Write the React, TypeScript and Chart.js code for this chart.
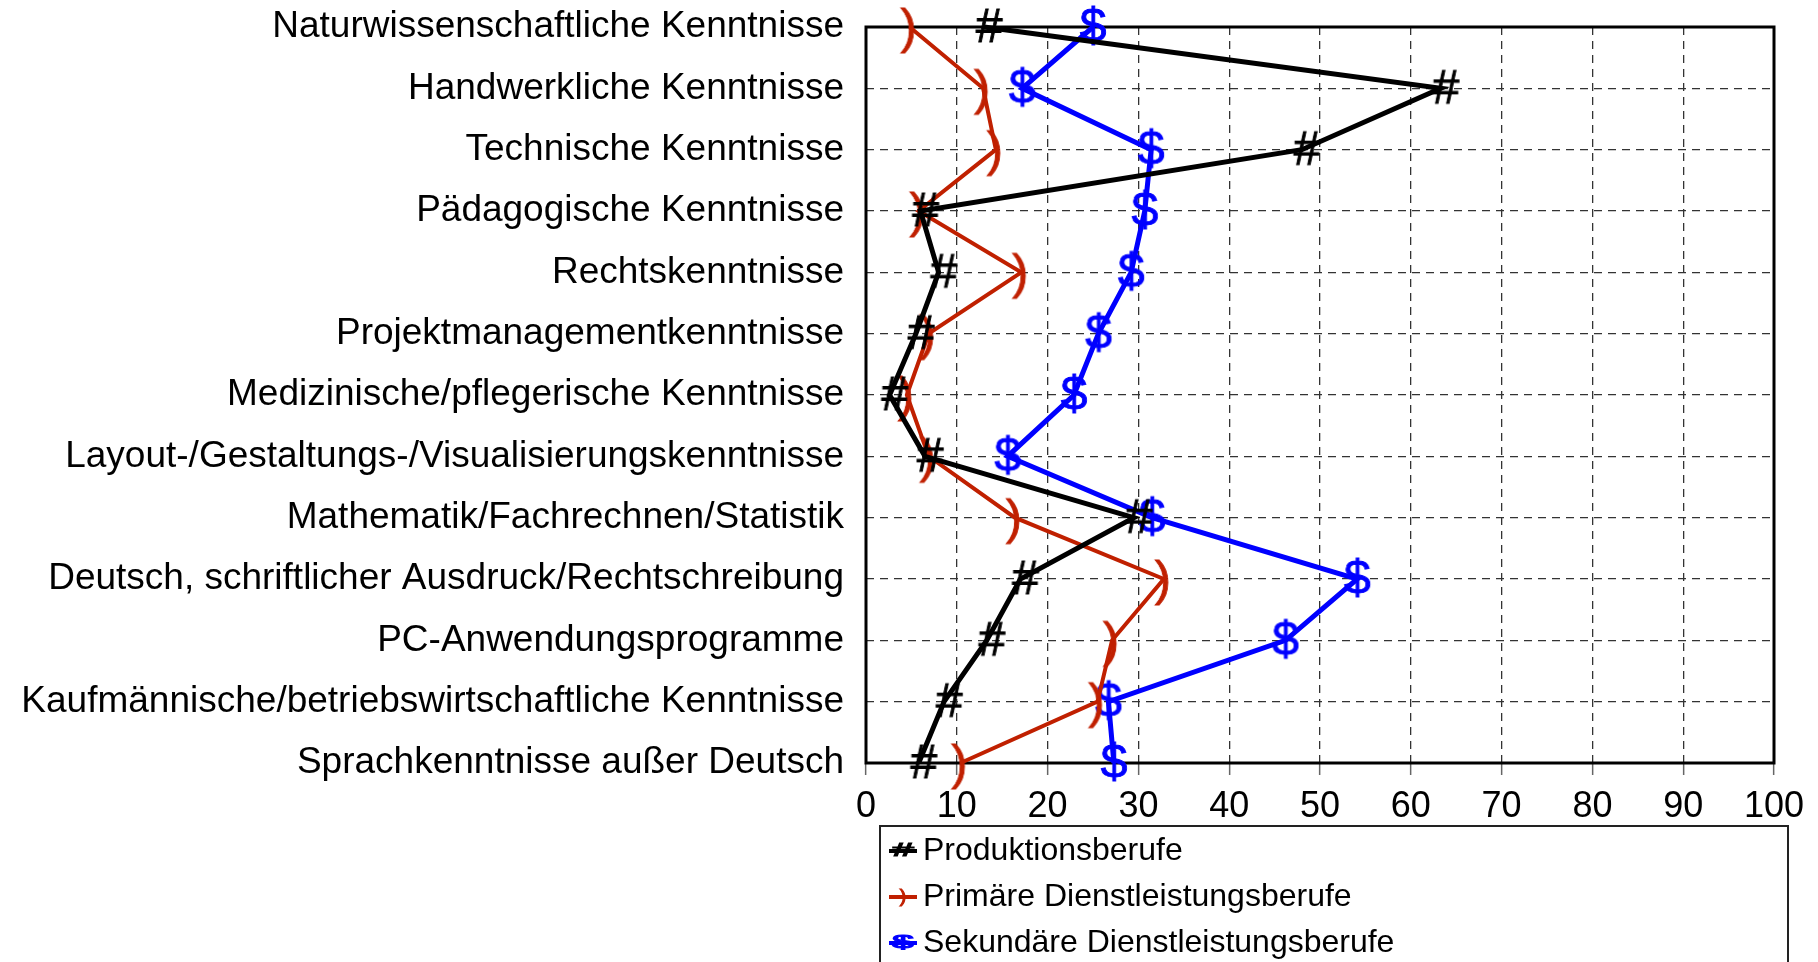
import React, { useEffect, useRef } from 'react';
import { Chart, registerables } from 'chart.js';

Chart.register(...registerables);

const categories = [
  'Naturwissenschaftliche Kenntnisse',
  'Handwerkliche Kenntnisse',
  'Technische Kenntnisse',
  'Pädagogische Kenntnisse',
  'Rechtskenntnisse',
  'Projektmanagementkenntnisse',
  'Medizinische/pflegerische Kenntnisse',
  'Layout-/Gestaltungs-/Visualisierungskenntnisse',
  'Mathematik/Fachrechnen/Statistik',
  'Deutsch, schriftlicher Ausdruck/Rechtschreibung',
  'PC-Anwendungsprogramme',
  'Kaufmännische/betriebswirtschaftliche Kenntnisse',
  'Sprachkenntnisse außer Deutsch',
];

const seriesLabels = ['Produktionsberufe', 'Primäre Dienstleistungsberufe', 'Sekundäre Dienstleistungsberufe'];

const produktion = [13, 63.3, 48, 6.0, 8.0, 5.5, 2.6, 6.5, 29.5, 17.0, 13.3, 8.6, 5.8];
const primaer = [4.8, 12.9, 14.3, 5.8, 17.1, 6.9, 4.5, 6.9, 16.4, 32.8, 27.1, 25.5, 10.4];
const sekundaer = [25.0, 17.2, 31.4, 30.7, 29.2, 25.6, 22.9, 15.6, 31.5, 54.1, 46.2, 26.7, 27.3];

const xMin = 0;
const xMax = 100;
const xStep = 10;

const FONT = '"Liberation Sans", Arial, Helvetica, sans-serif';
const BLACK = '#000000';
const RED = '#c02000';
const BLUE = '#0000ff';

function glyph(ch: string, color: string, dx: number, dy: number): HTMLCanvasElement {
  const c = document.createElement('canvas');
  c.width = 64;
  c.height = 72;
  const g = c.getContext('2d')!;
  g.font = `48px ${FONT}`;
  g.fillStyle = color;
  g.strokeStyle = color;
  g.lineWidth = 0.9;
  g.textAlign = 'center';
  g.textBaseline = 'middle';
  g.fillText(ch, 32 + dx, 36 + dy);
  g.strokeText(ch, 32 + dx, 36 + dy);
  return c;
}

const framePlugin = {
  id: 'frame',
  beforeDatasetsDraw(chart: any) {
    const { ctx, chartArea } = chart;
    ctx.save();
    ctx.strokeStyle = '#000';
    ctx.lineWidth = 3;
    ctx.strokeRect(chartArea.left, chartArea.top, chartArea.right - chartArea.left, chartArea.bottom - chartArea.top);
    ctx.restore();
  },
};

const legendPlugin = {
  id: 'boxLegend',
  afterDraw(chart: any) {
    const { ctx, chartArea } = chart;
    const bx = chartArea.left + 14;
    const by = chartArea.bottom + 63;
    const bw = chartArea.right - chartArea.left;
    ctx.save();
    ctx.strokeStyle = '#222';
    ctx.lineWidth = 2;
    ctx.strokeRect(bx, by, bw, 200);
    const glyphs = ['#', ')', '$'];
    const sx = [1.2, 0.6, 1.2];
    chart.data.datasets.forEach((ds: any, i: number) => {
      const y = by + 25 + i * 46;
      const mx = bx + 23;
      ctx.strokeStyle = ds.borderColor;
      ctx.lineWidth = 4;
      ctx.beginPath();
      ctx.moveTo(bx + 9, y);
      ctx.lineTo(bx + 37, y);
      ctx.stroke();
      ctx.save();
      ctx.translate(mx, y);
      ctx.scale(sx[i], 0.55);
      ctx.fillStyle = ds.borderColor;
      ctx.strokeStyle = ds.borderColor;
      ctx.lineWidth = 2;
      ctx.font = `32px ${FONT}`;
      ctx.textAlign = 'center';
      ctx.textBaseline = 'middle';
      ctx.fillText(glyphs[i], 0, 0);
      ctx.strokeText(glyphs[i], 0, 0);
      ctx.restore();
      ctx.fillStyle = '#000';
      ctx.font = `32px ${FONT}`;
      ctx.textAlign = 'left';
      ctx.textBaseline = 'middle';
      ctx.fillText(ds.label, bx + 43, y);
    });
    ctx.restore();
  },
};

export default function App() {
  const ref = useRef<HTMLCanvasElement | null>(null);

  useEffect(() => {
    document.body.style.margin = '0';
    const canvas = ref.current!;
    const chart = new Chart(canvas, {
      type: 'line',
      data: {
        labels: categories,
        datasets: [
          {
            label: seriesLabels[0],
            data: produktion,
            borderColor: BLACK,
            backgroundColor: BLACK,
            borderWidth: 5,
            pointStyle: glyph('#', BLACK, 5, 2) as any,
            pointRadius: 12,
            clip: false as any,
          },
          {
            label: seriesLabels[1],
            data: primaer,
            borderColor: RED,
            backgroundColor: RED,
            borderWidth: 4,
            pointStyle: glyph(')', RED, -1, 3) as any,
            pointRadius: 12,
            clip: false as any,
          },
          {
            label: seriesLabels[2],
            data: sekundaer,
            borderColor: BLUE,
            backgroundColor: BLUE,
            borderWidth: 5,
            pointStyle: glyph('$', BLUE, 0, 2) as any,
            pointRadius: 12,
            clip: false as any,
          },
        ],
      },
      options: {
        indexAxis: 'y',
        responsive: false,
        animation: false,
        events: [],
        layout: { padding: { left: 0, top: 27, right: 44, bottom: 139 } },
        elements: { line: { tension: 0 } },
        plugins: {
          legend: { display: false },
          tooltip: { enabled: false },
          title: { display: false },
        },
        scales: {
          y: {
            type: 'category',
            offset: false,
            afterFit: (scale: any) => {
              scale.width = 866;
              scale.paddingTop = 0;
              scale.paddingBottom = 0;
            },
            grid: {
              display: true,
              color: '#333',
              lineWidth: 1.3,
              drawTicks: false,
            },
            border: { display: false, dash: [8, 6] },
            ticks: {
              color: '#000',
              padding: 22,
              font: { family: FONT, size: 37 },
              autoSkip: false,
            },
          },
          x: {
            type: 'linear',
            min: xMin,
            max: xMax,
            afterFit: (scale: any) => {
              scale.height = 60;
            },
            grid: {
              display: true,
              color: '#333',
              lineWidth: 1.3,
              drawTicks: true,
              tickLength: 12,
              tickColor: '#666',
              tickWidth: 1.5,
              tickBorderDash: [],
            },
            border: { display: false, dash: [8, 6] },
            ticks: {
              stepSize: xStep,
              color: '#000',
              padding: 10,
              font: { family: FONT, size: 36 },
              maxRotation: 0,
            },
          },
        },
      },
      plugins: [framePlugin, legendPlugin],
    });
    return () => chart.destroy();
  }, []);

  return (
    <div style={{ width: 1818, height: 962 }}>
      <canvas ref={ref} width={1818} height={962} style={{ display: 'block', width: 1818, height: 962 }} />
    </div>
  );
}
